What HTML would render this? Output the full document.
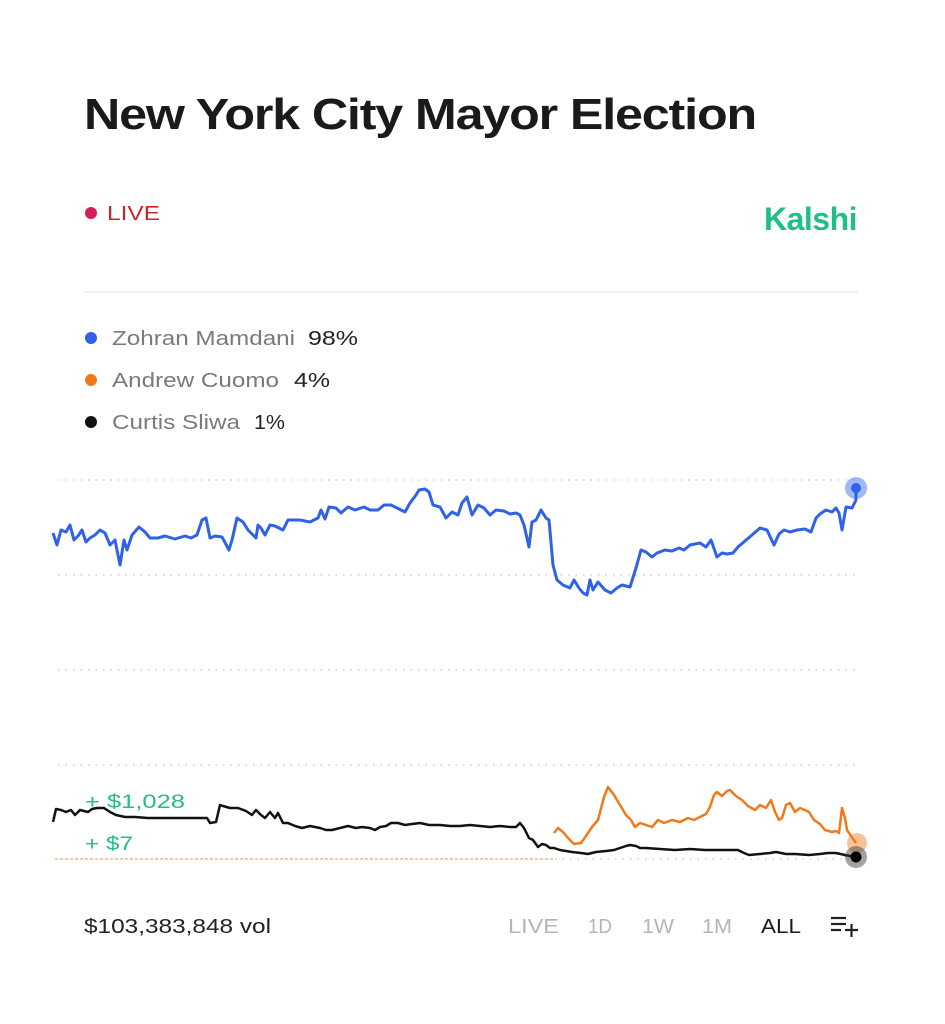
<!DOCTYPE html>
<html><head><meta charset="utf-8"><style>
html,body{margin:0;padding:0;background:#fff;width:945px;height:1024px;overflow:hidden}
</style></head><body>
<svg width="945" height="1024" viewBox="0 0 945 1024" xmlns="http://www.w3.org/2000/svg" style="position:absolute;left:0;top:0">
<rect width="945" height="1024" fill="#fff"/>
<text x="84" y="129" font-family="Liberation Sans, sans-serif" font-weight="bold" font-size="44" fill="#1a1a1a" letter-spacing="-1" textLength="672" lengthAdjust="spacingAndGlyphs">New York City Mayor Election</text>
<circle cx="91" cy="213" r="6" fill="#d81b5a"/>
<text x="107" y="220" font-family="Liberation Sans, sans-serif" font-size="20" fill="#c62a2a" textLength="53" lengthAdjust="spacingAndGlyphs">LIVE</text>
<text x="857" y="230" text-anchor="end" font-family="Liberation Sans, sans-serif" font-weight="bold" font-size="32" fill="#1fbf85" letter-spacing="-0.5">Kalshi</text>
<line x1="84" y1="292" x2="858" y2="292" stroke="#ececec" stroke-width="1.5"/>
<g font-family="Liberation Sans, sans-serif" font-size="20" lengthAdjust="spacingAndGlyphs">
<circle cx="91" cy="338" r="6" fill="#2f62e8"/>
<text x="112" y="345" fill="#7a7a7a" textLength="183" lengthAdjust="spacingAndGlyphs">Zohran Mamdani</text><text x="308" y="345" fill="#222" textLength="50" lengthAdjust="spacingAndGlyphs">98%</text>
<circle cx="91" cy="380" r="6" fill="#f07a1a"/>
<text x="112" y="387" fill="#7a7a7a" textLength="167" lengthAdjust="spacingAndGlyphs">Andrew Cuomo</text><text x="294" y="387" fill="#222" textLength="36" lengthAdjust="spacingAndGlyphs">4%</text>
<circle cx="91" cy="422" r="6" fill="#111"/>
<text x="112" y="429" fill="#7a7a7a" textLength="128" lengthAdjust="spacingAndGlyphs">Curtis Sliwa</text><text x="254" y="429" fill="#222" textLength="31" lengthAdjust="spacingAndGlyphs">1%</text>
</g>
<g stroke="#cfcfcf" stroke-width="1.5" stroke-dasharray="1.5 6">
<line x1="58" y1="480" x2="860" y2="480"/>
<line x1="58" y1="575" x2="860" y2="575"/>
<line x1="58" y1="670" x2="860" y2="670"/>
<line x1="58" y1="765" x2="860" y2="765"/>
<line x1="555" y1="859" x2="860" y2="859"/>
</g>
<line x1="55" y1="859" x2="555" y2="859" stroke="#f5c9a8" stroke-width="2" stroke-dasharray="3 2"/>
<polyline fill="none" stroke="#2f62e8" stroke-width="3" stroke-linejoin="round" points="53,533 57,545 61,530 66,532 70,525 74,540 78,536 82,530 86,542 90,538 95,535 100,530 105,533 110,545 115,540 120,565 124,540 127,550 132,535 139,527 145,532 150,538 158,538 165,536 175,539 185,536 191,538 197,535 202,520 206,518 210,538 215,536 222,537 229,550 232,540 237,518 243,522 248,530 256,538 258,525 261,528 265,535 270,525 275,526 283,530 288,520 300,520 310,522 318,518 321,510 325,519 329,507 336,508 341,513 348,507 355,510 364,507 370,510 378,510 384,505 391,505 397,508 405,512 410,503 416,495 419,490 425,489 429,492 433,505 440,507 446,518 452,512 458,515 462,503 467,497 472,515 478,505 484,508 490,515 496,510 504,511 510,514 516,513 520,515 524,525 529,547 532,522 536,520 541,510 546,518 549,520 553,565 557,580 563,585 570,588 574,580 579,588 583,593 587,595 590,580 593,590 598,582 605,590 611,593 617,588 622,585 630,587 636,568 641,550 646,552 652,557 657,553 665,550 672,551 679,548 684,550 690,545 700,543 706,547 711,540 717,557 722,553 727,554 733,553 738,547 745,541 752,535 760,528 767,530 774,545 779,534 784,530 790,532 797,530 805,529 811,532 816,518 820,514 826,510 832,512 836,508 839,513 842,530 846,507 852,508 856,500 856,488"/>
<polyline fill="none" stroke="#f07a1a" stroke-width="2.5" stroke-linejoin="round" points="554,833 558,828 563,832 568,838 574,844 581,843 586,836 592,827 598,820 604,797 608,787 614,795 620,805 626,815 631,820 635,827 640,823 646,825 652,827 658,820 664,823 672,820 680,822 688,818 694,820 700,817 706,814 710,807 714,795 717,792 722,796 727,791 730,790 736,796 742,800 748,806 755,810 760,805 766,808 771,800 775,812 779,820 782,818 786,805 790,803 795,812 800,808 805,810 809,812 814,820 820,824 825,830 832,832 836,831 839,833 842,808 845,818 847,830 851,836 856,843"/>
<polyline fill="none" stroke="#111" stroke-width="2.5" stroke-linejoin="round" points="53,822 56,809 61,810 66,812 71,810 75,815 80,810 88,812 92,809 97,808 104,808 110,812 116,815 125,817 135,817 148,818 165,818 180,818 195,818 207,818 210,823 216,822 220,805 223,806 230,808 238,808 246,811 252,815 256,810 261,815 265,818 270,812 275,818 278,813 283,823 288,823 295,826 302,828 310,826 320,828 326,830 332,830 340,828 348,826 356,828 362,827 370,828 375,830 380,827 386,826 391,823 398,823 405,825 412,824 420,823 429,825 440,825 450,826 460,826 470,825 480,826 490,827 500,826 510,827 516,827 520,823 524,828 529,838 533,840 538,847 542,844 546,845 550,848 554,848 560,850 566,851 572,852 581,853 588,854 596,852 606,851 614,850 620,848 626,846 630,845 636,846 640,848 646,848 660,849 675,850 690,849 705,850 720,850 738,850 744,853 749,855 760,854 770,853 776,852 786,854 795,854 809,855 820,854 828,853 836,853 845,855 855,857"/>
<circle cx="856" cy="488" r="11" fill="#2f62e8" opacity="0.45"/>
<circle cx="856" cy="488" r="5" fill="#2f62e8"/>
<circle cx="857" cy="843" r="10" fill="#f07a1a" opacity="0.45"/>
<circle cx="856" cy="857" r="11" fill="#333" opacity="0.45"/>
<circle cx="856" cy="857" r="5.5" fill="#000"/>
<g font-family="Liberation Sans, sans-serif" font-size="19" fill="#1fbf85">
<text x="85" y="808" textLength="100" lengthAdjust="spacingAndGlyphs">+ $1,028</text>
<text x="85" y="850" textLength="48" lengthAdjust="spacingAndGlyphs">+ $7</text>
</g>
<g font-family="Liberation Sans, sans-serif" font-size="20">
<text x="84" y="933" fill="#222" textLength="187" lengthAdjust="spacingAndGlyphs">$103,383,848 vol</text>
<text x="508" y="933" fill="#b5b5b5" textLength="51" lengthAdjust="spacingAndGlyphs">LIVE</text>
<text x="588" y="933" fill="#b5b5b5" textLength="24" lengthAdjust="spacingAndGlyphs">1D</text>
<text x="642" y="933" fill="#b5b5b5" textLength="32" lengthAdjust="spacingAndGlyphs">1W</text>
<text x="702" y="933" fill="#b5b5b5" textLength="30" lengthAdjust="spacingAndGlyphs">1M</text>
<text x="761" y="933" fill="#1a1a1a" textLength="40" lengthAdjust="spacingAndGlyphs">ALL</text>
</g>
<g stroke="#222" stroke-width="2.2">
<line x1="831" y1="918" x2="846" y2="918"/>
<line x1="831" y1="924" x2="846" y2="924"/>
<line x1="831" y1="930" x2="841" y2="930"/>
<line x1="845" y1="930" x2="858" y2="930"/>
<line x1="851.5" y1="924" x2="851.5" y2="937"/>
</g>
</svg>
</body></html>
